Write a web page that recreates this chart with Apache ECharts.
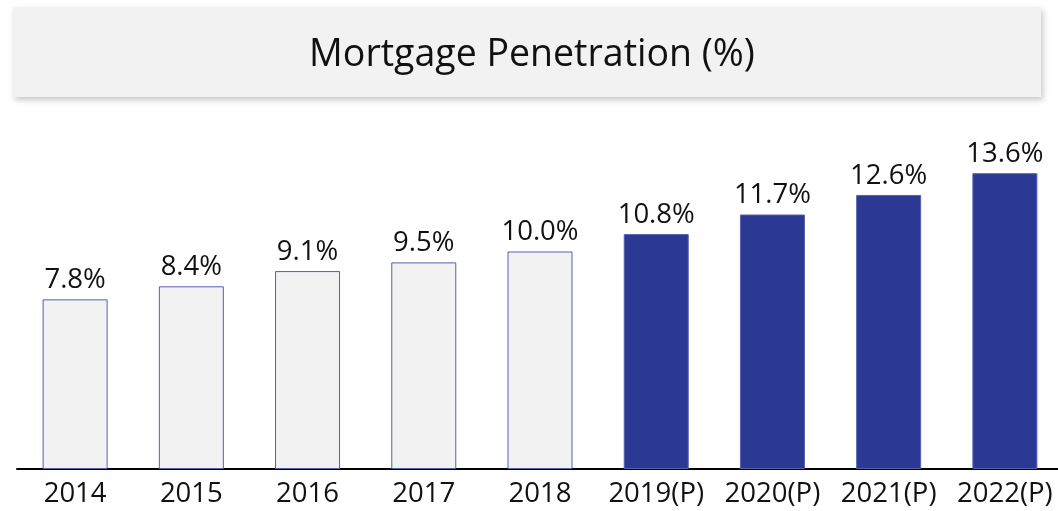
<!DOCTYPE html>
<html>
<head>
<meta charset="utf-8">
<script src="https://cdn.jsdelivr.net/npm/echarts@6/dist/echarts.min.js"></script>
<style>
  html, body { margin: 0; padding: 0; background: #fff; overflow: hidden; }
  /* чуть шире окна: последняя категория уходит за правый край, как в оригинале */
  #chart { width: 1066px; height: 511px; }
</style>
</head>
<body>
<div id="chart"></div>
<script>
// данные графика
const years = ['2014', '2015', '2016', '2017', '2018', '2019(P)', '2020(P)', '2021(P)', '2022(P)'];
const penetration = [7.8, 8.4, 9.1, 9.5, 10.0, 10.8, 11.7, 12.6, 13.6];
const projected = [false, false, false, false, false, true, true, true, true];

const FONT = '"Open Sans", "Noto Sans", sans-serif';
const DARK = '#2b3894';

const chart = echarts.init(document.getElementById('chart'));

const barData = penetration.map((v, i) => ({
  value: v,
  itemStyle: projected[i]
    ? { color: DARK, borderColor: '#5560ad', borderWidth: 1 }
    : { color: '#f2f2f2', borderColor: '#5560ad', borderWidth: 1 }
}));

const option = {
  backgroundColor: '#ffffff',
  animation: false,
  graphic: [{
    type: 'rect',
    z: -1,
    shape: { x: 13, y: 7, width: 1028, height: 90 },
    style: {
      fill: '#f2f2f2',
      shadowBlur: 6,
      shadowOffsetX: 2,
      shadowOffsetY: 3,
      shadowColor: 'rgba(0,0,0,0.22)'
    }
  }],
  title: {
    text: 'Mortgage Penetration (%)',
    left: 527,
    top: 31,
    textAlign: 'center',
    textStyle: { fontFamily: FONT, fontSize: 37.5, fontWeight: 'normal', color: '#111' }
  },
  grid: { left: 17, width: 1046, top: 121, height: 348 },
  xAxis: {
    type: 'category',
    data: years,
    axisLine: { lineStyle: { color: '#000', width: 2 } },
    axisTick: { show: false },
    axisLabel: { color: '#111', fontFamily: FONT, fontSize: 27.5, margin: 11, interval: 0 }
  },
  yAxis: {
    type: 'value',
    min: 0,
    max: 16,
    show: false,
    splitLine: { show: false }
  },
  series: [{
    type: 'bar',
    data: barData,
    barWidth: 65,
    label: {
      show: true,
      position: 'top',
      distance: 5,
      formatter: p => p.value.toFixed(1) + '%',
      color: '#111',
      fontFamily: FONT,
      fontSize: 27.5
    }
  }]
};

chart.setOption(option);
</script>
</body>
</html>
